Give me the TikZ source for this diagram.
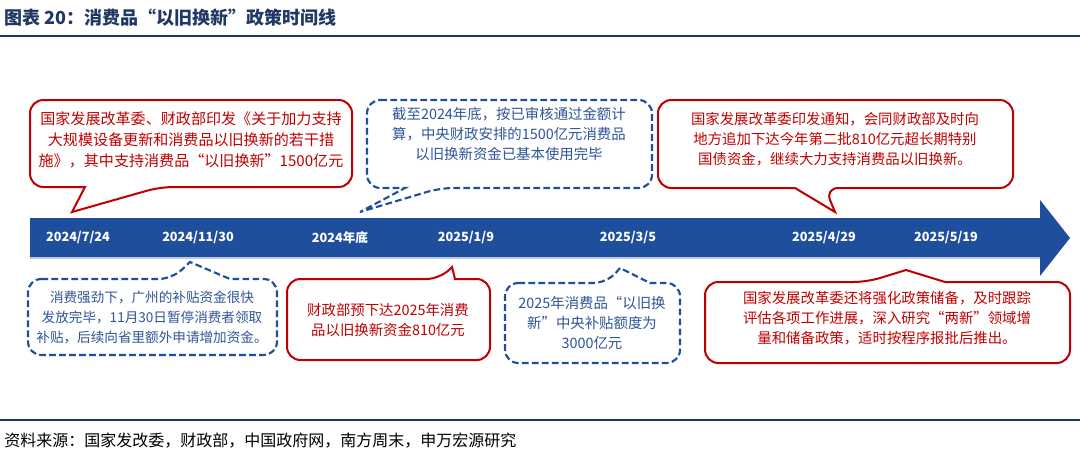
\documentclass[tikz,border=0pt]{standalone}
\usepackage{fontspec}
\setmainfont{Noto Sans CJK SC}
\definecolor{rd}{HTML}{C00000}
\definecolor{bl}{HTML}{1F4E9C}
\definecolor{blt}{HTML}{2F5597}
\definecolor{navy}{HTML}{1F3864}
\begin{document}
\begin{tikzpicture}[x=0.75pt,y=-0.75pt,
  redbox/.style={draw=rd,line width=1.5pt,fill=white,rounded corners=10},
  bluebox/.style={draw=bl,line width=1.6pt,dashed,dash pattern=on 5pt off 2.5pt,fill=white,rounded corners=10},
  rtxt/.style={text=rd,align=center,font=\fontsize{10.8}{15}\selectfont,inner sep=0},
  btxt/.style={text=blt,align=center,font=\fontsize{10.8}{15}\selectfont,inner sep=0},
  date/.style={text=white,font=\bfseries\fontsize{9.5}{11}\selectfont,inner sep=0}]
\useasboundingbox (0,0) rectangle (1080,464);
% title
\node[anchor=west,text=navy,font=\bfseries\fontsize{13.5}{16}\selectfont,inner sep=0] (title) at (4,18) {图表 20：消费品“以旧换新”政策时间线};
\draw[navy,line width=1.5pt] (0,36) -- (1080,36);
\draw[navy,line width=1pt] (0,420) -- (1080,420);
\node[anchor=west,font=\fontsize{12}{14}\selectfont,inner sep=0] (src) at (4,441) {资料来源：国家发改委，财政部，中国政府网，南方周末，申万宏源研究};
% timeline arrow
\fill[bl] (30,218) -- (1040,218) -- (1040,200) -- (1070,238) -- (1040,276) -- (1040,258) -- (30,258) -- cycle;
\draw[white!70!bl,line width=0.8pt] (30,258) -- (1040,258);
\node[date] (d1) at (78,238) {2024/7/24};
\node[date] (d2) at (198,238) {2024/11/30};
\node[date] (d3) at (340,238) {2024年底};
\node[date] (d4) at (466,238) {2025/1/9};
\node[date] (d5) at (628,238) {2025/3/5};
\node[date] (d6) at (824,238) {2025/4/29};
\node[date] (d7) at (946,238) {2025/5/19};
% callout 1
\draw[redbox] (30,100) -- (352,100) -- (352,187) -- (160,187) [sharp corners] -- (72,212) -- (85,187) [rounded corners=10] -- (30,187) -- cycle;
\node[rtxt,font=\fontsize{11.3}{15.5}\selectfont] (t1) at (191,140) {国家发展改革委、财政部印发《关于加力支持\\大规模设备更新和消费品以旧换新的若干措\\施》，其中支持消费品“以旧换新”1500亿元};
% callout 2
\draw[bluebox] (367,100) -- (652,100) -- (652,188) -- (440,188) [sharp corners] -- (360,212) -- (405,188) [rounded corners=10] -- (367,188) -- cycle;
\node[btxt] (t2) at (509,134) {截至2024年底，按已审核通过金额计\\算，中央财政安排的1500亿元消费品\\以旧换新资金已基本使用完毕};
% callout 3
\draw[redbox] (658,100) -- (1013,100) -- (1013,188) -- (825,188) [sharp corners] -- (835,212) -- (795,188) [rounded corners=10] -- (658,188) -- cycle;
\node[rtxt] (t3) at (835,139) {国家发展改革委印发通知，会同财政部及时向\\地方追加下达今年第二批810亿元超长期特别\\国债资金，继续大力支持消费品以旧换新。};
% callout 4
\draw[bluebox] (28,279) -- (172,279) [sharp corners] -- (190,262) -- (230,279) [rounded corners=10] -- (277,279) -- (277,355) -- (28,355) -- cycle;
\node[btxt,font=\fontsize{10.2}{15}\selectfont] (t4) at (152,317) {消费强劲下，广州的补贴资金很快\\发放完毕，11月30日暂停消费者领取\\补贴，后续向省里额外申请增加资金。};
% callout 5
\draw[redbox] (287,279) -- (440,279) [sharp corners] -- (452,267) -- (455,279) [rounded corners=10] -- (490,279) -- (490,360) -- (287,360) -- cycle;
\node[rtxt] (t5) at (388,320) {财政部预下达2025年消费\\品以旧换新资金810亿元};
% callout 6
\draw[bluebox] (505,283) -- (607,283) [sharp corners] -- (620,268) -- (650,283) [rounded corners=10] -- (680,283) -- (680,363) -- (505,363) -- cycle;
\node[btxt] (t6) at (592,323) {2025年消费品“以旧换\\新”中央补贴额度为\\3000亿元};
% callout 7
\draw[redbox] (705,282) -- (867,282) [sharp corners] -- (906,270) -- (945,282) [rounded corners=10] -- (1070,282) -- (1070,363) -- (705,363) -- cycle;
\node[rtxt] (t7) at (887,318) {国家发展改革委还将强化政策储备，及时跟踪\\评估各项工作进展，深入研究“两新”领域增\\量和储备政策，适时按程序报批后推出。};
\end{tikzpicture}
\end{document}
